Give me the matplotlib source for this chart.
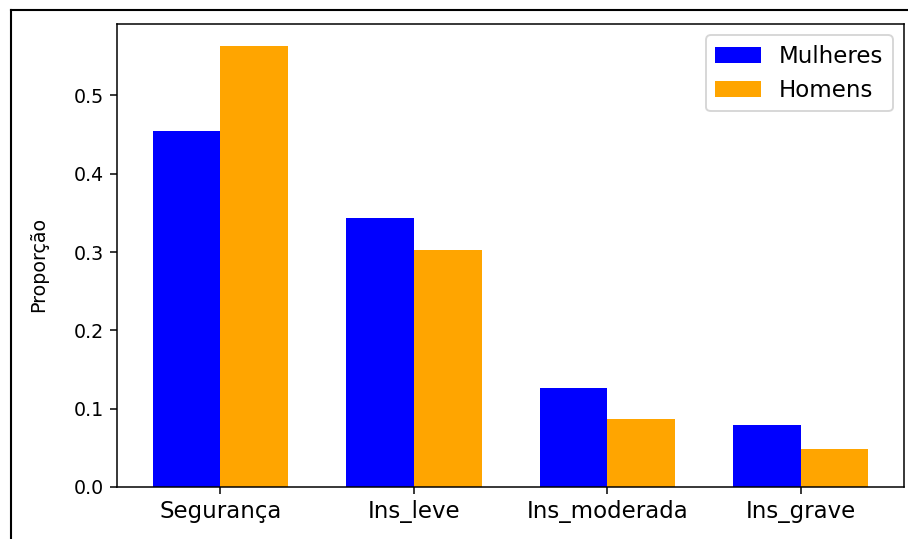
import numpy as np
import matplotlib
matplotlib.use("Agg")
import matplotlib.pyplot as plt
from matplotlib.lines import Line2D

# data
categorias = ["Segurança", "Ins_leve", "Ins_moderada", "Ins_grave"]
mulheres = [0.454, 0.343, 0.126, 0.079]
homens = [0.563, 0.302, 0.087, 0.049]

dpi = 137
fig = plt.figure(figsize=(908 / dpi, 539 / dpi), dpi=dpi)
ax = fig.add_axes([0.1289, 0.0965, 0.8667, 0.859])

x = np.arange(len(categorias))
width = 0.35

ax.bar(x - width / 2, mulheres, width, color="blue", label="Mulheres")
ax.bar(x + width / 2, homens, width, color="orange", label="Homens")

ax.set_xticks(x)
ax.set_xticklabels(categorias, fontsize=12)
ax.tick_params(axis="y", labelsize=10)
ax.set_ylabel("Proporção", fontsize=10)
ax.yaxis.set_label_coords(-0.088, 0.48)
ax.legend(fontsize=12)

# screenshot frame around the figure
fig.add_artist(Line2D([11 / 908, 1.0], [1 - 10 / 539, 1 - 10 / 539],
                      transform=fig.transFigure, color="black", lw=1.1))
fig.add_artist(Line2D([11 / 908, 11 / 908], [0.0, 1 - 10 / 539],
                      transform=fig.transFigure, color="black", lw=1.1))

fig.savefig("out.png", dpi=dpi)
